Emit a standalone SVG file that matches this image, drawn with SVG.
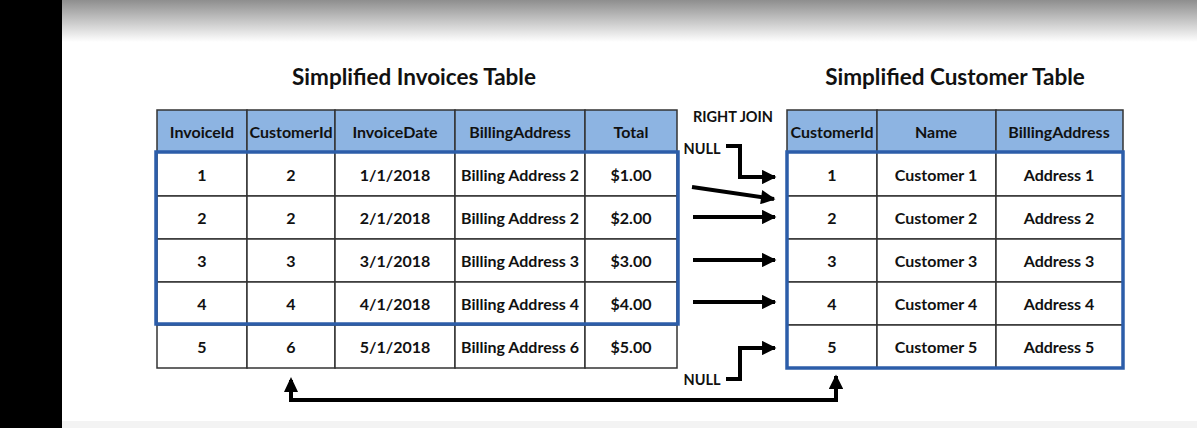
<svg xmlns="http://www.w3.org/2000/svg" width="1197" height="428" viewBox="0 0 1197 428">
<defs>
<linearGradient id="topg" x1="0" y1="0" x2="0" y2="1">
<stop offset="0" stop-color="#8e8e8e"/>
<stop offset="1" stop-color="#ffffff"/>
</linearGradient>
<marker id="ah" viewBox="0 0 10 10" refX="9" refY="5" markerWidth="3.8" markerHeight="3.6" orient="auto" markerUnits="strokeWidth">
<path d="M0,0 L10,5 L0,10 Z" fill="#000"/>
</marker>
<style>
text{font-family:Lato,"Open Sans","Liberation Sans",sans-serif;font-weight:bold;fill:#111;text-anchor:middle;dominant-baseline:central}
.t{font-size:22.5px}
.c{font-size:16px}
.hd{fill:#8db4e2;stroke:#333;stroke-width:1.5}
.cell{fill:#fff;stroke:#333;stroke-width:1.5}
.sel{fill:none;stroke:#2c5da9;stroke-width:3.5}
.ln{fill:none;stroke:#000;stroke-width:4}
.lab{font-size:14.5px}
</style>
</defs>
<rect x="0" y="0" width="1197" height="428" fill="#fff"/>
<rect x="0" y="0" width="1197" height="42" fill="url(#topg)"/>
<rect x="0" y="421" width="1197" height="7" fill="#f3f3f3"/>
<rect x="0" y="0" width="62" height="428" fill="#000"/>

<text class="t" x="414" y="76">Simplified Invoices Table</text>
<text class="t" x="955" y="76">Simplified Customer Table</text>

<g id="invoices">
<rect class="hd" x="157" y="110" width="90" height="42"/>
<rect class="hd" x="247" y="110" width="88" height="42"/>
<rect class="hd" x="335" y="110" width="120" height="42"/>
<rect class="hd" x="455" y="110" width="130" height="42"/>
<rect class="hd" x="585" y="110" width="92" height="42"/>
<text class="c" x="202" y="131">InvoiceId</text>
<text class="c" x="291" y="131">CustomerId</text>
<text class="c" x="395" y="131">InvoiceDate</text>
<text class="c" x="520" y="131">BillingAddress</text>
<text class="c" x="631" y="131">Total</text>

<g>
<rect class="cell" x="157" y="152" width="90" height="44"/><rect class="cell" x="247" y="152" width="88" height="44"/><rect class="cell" x="335" y="152" width="120" height="44"/><rect class="cell" x="455" y="152" width="130" height="44"/><rect class="cell" x="585" y="152" width="92" height="44"/>
<rect class="cell" x="157" y="196" width="90" height="43"/><rect class="cell" x="247" y="196" width="88" height="43"/><rect class="cell" x="335" y="196" width="120" height="43"/><rect class="cell" x="455" y="196" width="130" height="43"/><rect class="cell" x="585" y="196" width="92" height="43"/>
<rect class="cell" x="157" y="239" width="90" height="43"/><rect class="cell" x="247" y="239" width="88" height="43"/><rect class="cell" x="335" y="239" width="120" height="43"/><rect class="cell" x="455" y="239" width="130" height="43"/><rect class="cell" x="585" y="239" width="92" height="43"/>
<rect class="cell" x="157" y="282" width="90" height="43"/><rect class="cell" x="247" y="282" width="88" height="43"/><rect class="cell" x="335" y="282" width="120" height="43"/><rect class="cell" x="455" y="282" width="130" height="43"/><rect class="cell" x="585" y="282" width="92" height="43"/>
<rect class="cell" x="157" y="325" width="90" height="43"/><rect class="cell" x="247" y="325" width="88" height="43"/><rect class="cell" x="335" y="325" width="120" height="43"/><rect class="cell" x="455" y="325" width="130" height="43"/><rect class="cell" x="585" y="325" width="92" height="43"/>
</g>
<text class="c" x="202" y="174">1</text><text class="c" x="291" y="174">2</text><text class="c" x="395" y="174">1/1/2018</text><text class="c" x="520" y="174">Billing Address 2</text><text class="c" x="631" y="174">$1.00</text>
<text class="c" x="202" y="217">2</text><text class="c" x="291" y="217">2</text><text class="c" x="395" y="217">2/1/2018</text><text class="c" x="520" y="217">Billing Address 2</text><text class="c" x="631" y="217">$2.00</text>
<text class="c" x="202" y="260">3</text><text class="c" x="291" y="260">3</text><text class="c" x="395" y="260">3/1/2018</text><text class="c" x="520" y="260">Billing Address 3</text><text class="c" x="631" y="260">$3.00</text>
<text class="c" x="202" y="303">4</text><text class="c" x="291" y="303">4</text><text class="c" x="395" y="303">4/1/2018</text><text class="c" x="520" y="303">Billing Address 4</text><text class="c" x="631" y="303">$4.00</text>
<text class="c" x="202" y="346">5</text><text class="c" x="291" y="346">6</text><text class="c" x="395" y="346">5/1/2018</text><text class="c" x="520" y="346">Billing Address 6</text><text class="c" x="631" y="346">$5.00</text>
<rect class="sel" x="156" y="152" width="522" height="172"/>
</g>

<g id="customers">
<rect class="hd" x="787" y="110" width="90" height="42"/>
<rect class="hd" x="877" y="110" width="119" height="42"/>
<rect class="hd" x="996" y="110" width="127" height="42"/>
<text class="c" x="832" y="131">CustomerId</text>
<text class="c" x="936" y="131">Name</text>
<text class="c" x="1059" y="131">BillingAddress</text>
<g>
<rect class="cell" x="787" y="152" width="90" height="44"/><rect class="cell" x="877" y="152" width="119" height="44"/><rect class="cell" x="996" y="152" width="127" height="44"/>
<rect class="cell" x="787" y="196" width="90" height="43"/><rect class="cell" x="877" y="196" width="119" height="43"/><rect class="cell" x="996" y="196" width="127" height="43"/>
<rect class="cell" x="787" y="239" width="90" height="43"/><rect class="cell" x="877" y="239" width="119" height="43"/><rect class="cell" x="996" y="239" width="127" height="43"/>
<rect class="cell" x="787" y="282" width="90" height="43"/><rect class="cell" x="877" y="282" width="119" height="43"/><rect class="cell" x="996" y="282" width="127" height="43"/>
<rect class="cell" x="787" y="325" width="90" height="43"/><rect class="cell" x="877" y="325" width="119" height="43"/><rect class="cell" x="996" y="325" width="127" height="43"/>
</g>
<text class="c" x="832" y="174">1</text><text class="c" x="936" y="174">Customer 1</text><text class="c" x="1059" y="174">Address 1</text>
<text class="c" x="832" y="217">2</text><text class="c" x="936" y="217">Customer 2</text><text class="c" x="1059" y="217">Address 2</text>
<text class="c" x="832" y="260">3</text><text class="c" x="936" y="260">Customer 3</text><text class="c" x="1059" y="260">Address 3</text>
<text class="c" x="832" y="303">4</text><text class="c" x="936" y="303">Customer 4</text><text class="c" x="1059" y="303">Address 4</text>
<text class="c" x="832" y="346">5</text><text class="c" x="936" y="346">Customer 5</text><text class="c" x="1059" y="346">Address 5</text>
<rect class="sel" x="787" y="152" width="336" height="216"/>
</g>

<text class="lab" x="733" y="116">RIGHT JOIN</text>
<text class="lab" x="702" y="148">NULL</text>
<text class="lab" x="702" y="379">NULL</text>

<g id="connectors">
<polyline class="ln" points="726,146 740,146 740,177 775,177" marker-end="url(#ah)"/>
<line class="ln" x1="692" y1="187" x2="774" y2="199" marker-end="url(#ah)"/>
<line class="ln" x1="693" y1="217" x2="775" y2="217" marker-end="url(#ah)"/>
<line class="ln" x1="693" y1="260" x2="775" y2="260" marker-end="url(#ah)"/>
<line class="ln" x1="693" y1="302" x2="775" y2="302" marker-end="url(#ah)"/>
<polyline class="ln" points="726,379 740,379 740,348 775,348" marker-end="url(#ah)"/>
<polyline class="ln" points="291,380 291,400 836,400 836,376" marker-end="url(#ah)"/>
<path d="M284,392 L291,377 L298,392 Z" fill="#000"/>
</g>
</svg>
